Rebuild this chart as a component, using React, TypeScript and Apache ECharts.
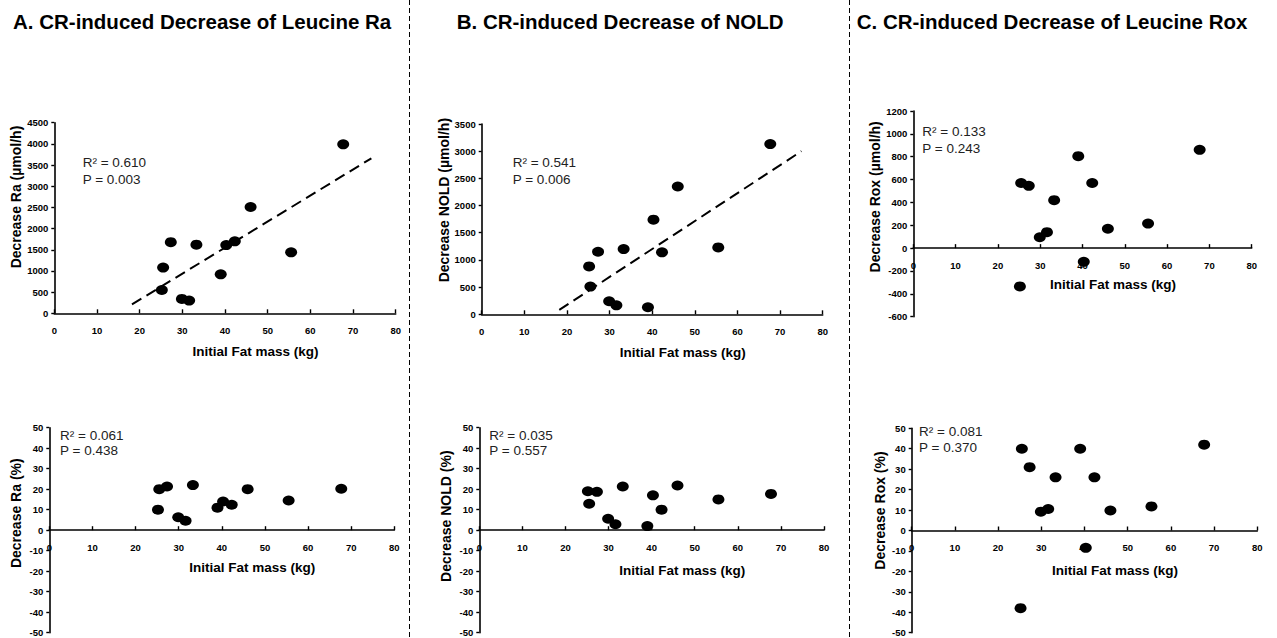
import { useEffect, useRef } from "react";
import * as echarts from "echarts";

// ---- data ----
const fatMass = [25.2, 25.5, 27.3, 29.9, 31.6, 33.3, 39.0, 40.3, 42.3, 46.0, 55.5, 67.7];
const raAbs = [550, 1080, 1680, 340, 300, 1620, 920, 1610, 1700, 2510, 1440, 3990];
const noldAbs = [880, 510, 1150, 240, 165, 1200, 130, 1740, 1140, 2350, 1230, 3130];
const roxAbs = [-335, 570, 545, 95, 140, 420, 805, -120, 570, 170, 215, 860];
const raPct = [10, 20, 21.3, 6.3, 4.6, 22, 11, 14, 12.4, 20, 14.5, 20.2];
const noldPct = [19, 12.9, 18.7, 5.6, 2.9, 21.3, 2, 17, 10, 21.8, 15, 17.7];
const roxPct = [-38, 40, 31, 9.2, 10.5, 26, 40, -8.5, 26, 9.8, 11.8, 42];

const trendRa = [[18.2, 210], [74.3, 3660]];
const trendNold = [[18.2, 80], [75, 3000]];

const panelTitles = [
  "A. CR-induced Decrease of Leucine Ra",
  "B. CR-induced Decrease of NOLD",
  "C. CR-induced Decrease of Leucine Rox",
];
const yNames = [
  "Decrease Ra (µmol/h)",
  "Decrease NOLD (µmol/h)",
  "Decrease Rox (µmol/h)",
  "Decrease Ra (%)",
  "Decrease NOLD (%)",
  "Decrease Rox (%)",
];
const xName = "Initial Fat mass (kg)";
const r2Labels = ["R² = 0.610", "R² = 0.541", "R² = 0.133", "R² = 0.061", "R² = 0.035", "R² = 0.081"];
const pLabels = ["P = 0.003", "P = 0.006", "P = 0.243", "P = 0.438", "P = 0.557", "P = 0.370"];
const yMin = [0, 0, -600, -50, -50, -50];
const yMax = [4500, 3500, 1200, 50, 50, 50];
const yInterval = [500, 500, 200, 10, 10, 10];
const xMin = 0;
const xMax = 80;
const xInterval = 10;

const panelValues = [raAbs, noldAbs, roxAbs, raPct, noldPct, roxPct];

// ---- layout ----
const FONT = "'Liberation Sans', Arial, Helvetica, sans-serif";
const grids = [
  { left: 54.3, top: 122.7, width: 341.4, height: 190.6 },
  { left: 481.7, top: 124, width: 341, height: 190.3 },
  { left: 913.3, top: 111, width: 338.4, height: 205.7 },
  { left: 49.3, top: 427.7, width: 345, height: 205 },
  { left: 479.3, top: 427.7, width: 344.7, height: 205 },
  { left: 911.7, top: 428.3, width: 345.6, height: 204.4 },
];
const xNameGaps = [31, 31, 29, 30, 33, 33];
const yNameGaps = [30, 30, 31, 26, 26, 25];
const yNameShift = [42, 38, 34, 34, 28, 40];
const annPos = [
  { x: 82.7, y1: 162.5, y2: 179.7 },
  { x: 512.7, y1: 162.5, y2: 179.7 },
  { x: 922.3, y1: 131.7, y2: 148.3 },
  { x: 60, y1: 435.7, y2: 450.3 },
  { x: 489.3, y1: 435.7, y2: 450.3 },
  { x: 919, y1: 431.7, y2: 447.3 },
];
const titleLeft = [13, 456.7, 856.7];

function buildOption() {
  const grid = grids.map((g) => ({ ...g, containLabel: false, outerBoundsMode: "none" }));
  const xAxis = grids.map((g, i) => {
    // place the x axis (line, ticks, labels) where y = 0 crosses the plot
    const zeroOffset = -(g.height * (0 - yMin[i])) / (yMax[i] - yMin[i]);
    return {
      type: "value",
      gridIndex: i,
      position: "bottom",
      offset: zeroOffset,
      min: xMin,
      max: xMax,
      interval: xInterval,
      axisLine: { show: true, onZero: false, lineStyle: { color: "#000", width: 1.6 } },
      axisTick: { show: true, inside: true, length: 4, lineStyle: { color: "#000", width: 1.4 } },
      axisLabel: { color: "#000", fontWeight: "bold", fontSize: 9.5, margin: 12, fontFamily: FONT },
      splitLine: { show: false },
      name: xName,
      nameLocation: "middle",
      nameGap: xNameGaps[i],
      nameTextStyle: {
        color: "#000",
        fontWeight: "bold",
        fontSize: 13.5,
        fontFamily: FONT,
        padding: [0, 0, 0, 61],
      },
    };
  });
  const yAxis = grids.map((_, i) => ({
    type: "value",
    gridIndex: i,
    min: yMin[i],
    max: yMax[i],
    interval: yInterval[i],
    axisLine: { show: true, onZero: false, lineStyle: { color: "#000", width: 1.6 } },
    axisTick: { show: true, inside: false, length: 3, lineStyle: { color: "#000", width: 1.4 } },
    axisLabel: {
      color: "#000",
      fontWeight: "bold",
      fontSize: 9.5,
      margin: 6,
      fontFamily: FONT,
      formatter: (v: number) => String(v),
    },
    splitLine: { show: false },
    name: yNames[i],
    nameLocation: "middle",
    nameGap: yNameGaps[i],
    nameTextStyle: {
      color: "#000",
      fontWeight: "bold",
      fontSize: 14,
      fontFamily: FONT,
      padding: [0, 0, 0, yNameShift[i]],
    },
  }));
  const series: any[] = panelValues.map((vals, i) => ({
    type: "scatter",
    xAxisIndex: i,
    yAxisIndex: i,
    symbol: "circle",
    symbolSize: [12, 10],
    itemStyle: { color: "#000", opacity: 1 },
    data: fatMass.map((x, k) => [x, vals[k]]),
  }));
  [trendRa, trendNold].forEach((t, i) => {
    series.push({
      type: "line",
      xAxisIndex: i,
      yAxisIndex: i,
      data: t,
      symbol: "none",
      showSymbol: false,
      lineStyle: { color: "#000", width: 2, type: [11, 6] },
    });
  });
  const graphic: any[] = [];
  [409.5, 849.5].forEach((x) => {
    graphic.push({
      type: "line",
      shape: { x1: x, y1: 0, x2: x, y2: 638 },
      style: { stroke: "#000", lineWidth: 1, lineDash: [5, 3] },
      silent: true,
    });
  });
  annPos.forEach((p, i) => {
    graphic.push({
      type: "text",
      x: p.x,
      y: p.y1,
      style: {
        text: r2Labels[i],
        fill: "#222",
        font: `13.5px ${FONT}`,
        verticalAlign: "middle",
        align: "left",
      },
    });
    graphic.push({
      type: "text",
      x: p.x,
      y: p.y2,
      style: {
        text: pLabels[i],
        fill: "#222",
        font: `13.5px ${FONT}`,
        verticalAlign: "middle",
        align: "left",
      },
    });
  });
  const title = panelTitles.map((t, i) => ({
    text: t,
    left: titleLeft[i],
    top: 11,
    padding: 0,
    textStyle: { color: "#000", fontWeight: "bold", fontSize: 20.5, fontFamily: FONT },
  }));
  return {
    animation: false,
    backgroundColor: "#fff",
    title,
    grid,
    xAxis,
    yAxis,
    series,
    graphic,
  };
}

export default function App() {
  const ref = useRef<HTMLDivElement>(null);
  useEffect(() => {
    if (!ref.current) return;
    const chart = echarts.init(ref.current, null, { renderer: "svg" });
    chart.setOption(buildOption() as any);
    return () => chart.dispose();
  }, []);
  return (
    <div
      ref={ref}
      style={{ position: "fixed", left: 0, top: 0, width: 1277, height: 638, background: "#fff" }}
    />
  );
}
